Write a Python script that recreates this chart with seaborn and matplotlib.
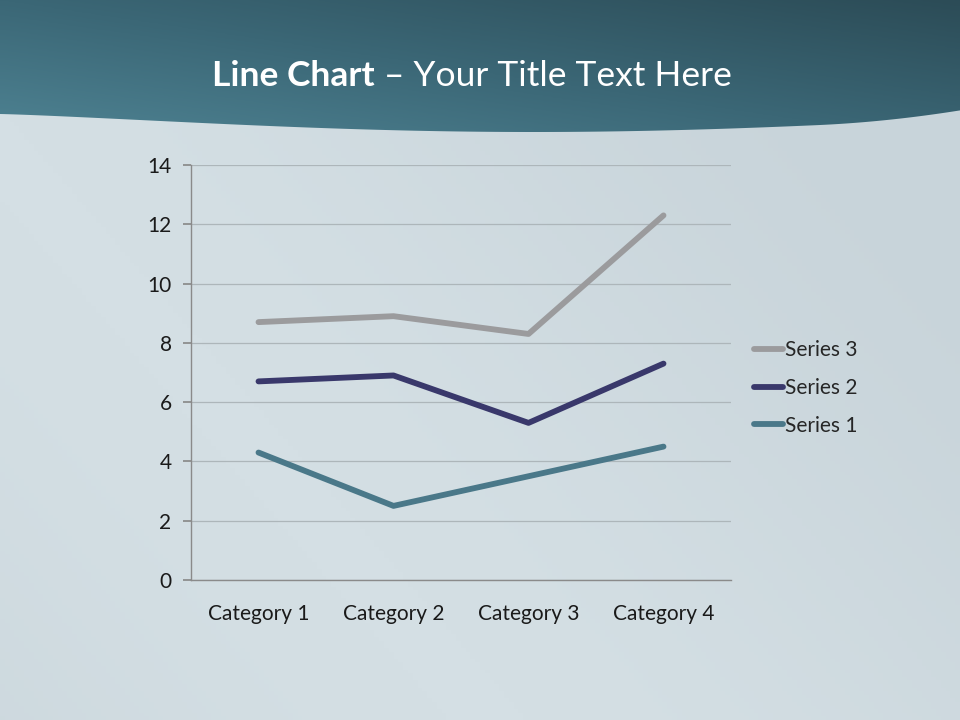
import numpy as np
import pandas as pd
import matplotlib
matplotlib.use("Agg")
import matplotlib.pyplot as plt
from matplotlib.path import Path
from matplotlib.patches import PathPatch
from matplotlib.lines import Line2D
import seaborn as sns

# chart data (stacked line values as drawn)
categories = ["Category 1", "Category 2", "Category 3", "Category 4"]
series_1 = [4.3, 2.5, 3.5, 4.5]
series_2 = [6.7, 6.9, 5.3, 7.3]
series_3 = [8.7, 8.9, 8.3, 12.3]
series_names = ["Series 1", "Series 2", "Series 3"]
y_ticks = [0, 2, 4, 6, 8, 10, 12, 14]

colors = {"Series 1": "#4a7889", "Series 2": "#39386b", "Series 3": "#9b9b9d"}

df = pd.DataFrame({
    "category": categories * 3,
    "x": list(range(len(categories))) * 3,
    "value": series_1 + series_2 + series_3,
    "series": [s for s in series_names for _ in categories],
})

sns.set_theme(style="white")
plt.rcParams["font.family"] = ["Lato", "DejaVu Sans"]

fig = plt.figure(figsize=(9.6, 7.2), dpi=100)
fig.patch.set_facecolor("#cfdbe0")

# background soft gradient
bg = fig.add_axes([0, 0, 1, 1], zorder=-10)
yy, xx = np.mgrid[0:1:200j, 0:1:200j]
shade = 0.5 + 0.5 * np.sin(xx * 3.1 + yy * 2.0)
bg.imshow(shade, extent=[0, 1, 0, 1], cmap=matplotlib.colors.LinearSegmentedColormap.from_list(
    "bgc", ["#c8d4da", "#d4dfe4"]), aspect="auto", origin="lower")
bg.set_xlim(0, 1)
bg.set_ylim(0, 1)
bg.axis("off")

# header band with wavy lower edge
hx = np.linspace(0, 1, 200)
edge_px = 114 + 18 * np.sin(np.pi * hx * 0.9) ** 1.2 - 8 * np.clip((hx - 0.85) / 0.15, 0, 1) ** 2
edge = 1 - edge_px / 720
verts = [(0, 1)] + list(zip(hx, edge)) + [(1, 1), (0, 1)]
codes = [Path.MOVETO] + [Path.LINETO] * (len(verts) - 2) + [Path.CLOSEPOLY]
clip = PathPatch(Path(verts, codes), transform=bg.transData, facecolor="none", edgecolor="none")
bg.add_patch(clip)
gy, gx = np.mgrid[0:1:100j, 0:1:200j]
grad = gx * 0.6 + gy * 0.6
img = bg.imshow(grad, extent=[0, 1, 0.8, 1], origin="lower", aspect="auto",
                cmap=matplotlib.colors.LinearSegmentedColormap.from_list(
                    "hdr", ["#4f8494", "#3b6776", "#2c4c57"]), zorder=2)
img.set_clip_path(clip)

# title
fig.text(375 / 960, 1 - 76 / 720, "Line Chart", ha="right", va="center",
         fontsize=25.5, fontweight="bold", color="white")
fig.text(375 / 960, 1 - 76 / 720, " \u2013 Your Title Text Here", ha="left", va="center",
         fontsize=25.5, color="white")

ax = fig.add_axes([191 / 960, 1 - 580 / 720, 540 / 960, 415 / 720])
ax.set_facecolor("none")
sns.lineplot(data=df, x="x", y="value", hue="series", hue_order=series_names,
             palette=colors, linewidth=4.2, ax=ax, legend=False,
             solid_capstyle="round")

ax.set_xlim(-0.5, len(categories) - 0.5)
ax.set_ylim(0, 14)
ax.set_yticks(y_ticks)
ax.set_yticklabels([str(t) for t in y_ticks], fontsize=15, color="#1a1a1a")
ax.set_xticks(range(len(categories)))
ax.set_xticklabels(categories, fontsize=15, color="#1a1a1a")
ax.set_xticks(np.arange(-0.5, len(categories), 1), minor=True)
ax.tick_params(axis="x", which="major", length=0, pad=17)
ax.tick_params(axis="x", which="minor", length=6, color="#8a8a8a", direction="out")
ax.tick_params(axis="y", length=6, color="#8a8a8a", direction="out", pad=8, left=True)
ax.grid(axis="y", color="#adb6ba", linewidth=0.9)
ax.set_axisbelow(True)
for side in ["top", "right"]:
    ax.spines[side].set_visible(False)
for side in ["left", "bottom"]:
    ax.spines[side].set_color("#8a8a8a")
    ax.spines[side].set_linewidth(1)
ax.set_xlabel("")
ax.set_ylabel("")

handles = [Line2D([0], [0], color=colors[s], linewidth=4.2, solid_capstyle="round")
           for s in reversed(series_names)]
fig.legend(handles, list(reversed(series_names)), loc="center left",
           bbox_to_anchor=(735 / 960, 1 - 388 / 720), frameon=False, fontsize=15,
           handlelength=1.4, handletextpad=0.1, labelspacing=0.85)

fig.savefig("out.png", dpi=100, facecolor=fig.get_facecolor())
